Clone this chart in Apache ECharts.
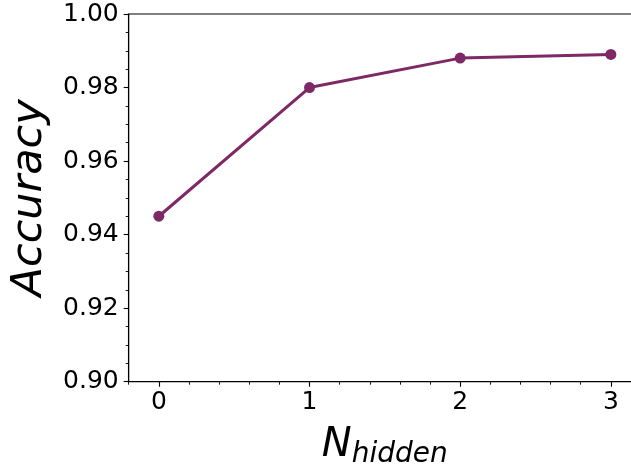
<!DOCTYPE html>
<html><head><meta charset="utf-8">
<script src="https://cdn.jsdelivr.net/npm/echarts@6/dist/echarts.min.js"></script>
<style>html,body{margin:0;padding:0;background:#fff}#c{width:631px;height:468px}</style>
</head><body><div id="c"></div>
<script>
const nHidden = [0, 1, 2, 3];
const accuracy = [0.945, 0.980, 0.988, 0.989];
const xTicks = [0, 1, 2, 3];
const yTicks = [0.90, 0.92, 0.94, 0.96, 0.98, 1.00];

const F = 'DejaVu Sans';
const chart = echarts.init(document.getElementById('c'), null, {renderer: 'canvas'});
chart.setOption({
  animation: false,
  grid: {left: 128.7, width: 512.3, top: 14, height: 367.7, show: true, borderColor: '#000', borderWidth: 1.1, backgroundColor: 'transparent', containLabel: false, outerBoundsMode: 'none'},
  xAxis: [{
    type: 'value', min: -0.2, max: 3.2,
    name: '{n|N}{s|hidden}', nameLocation: 'middle', nameGap: 41,
    nameTextStyle: {rich: {
      n: {fontFamily: F, fontStyle: 'italic', fontSize: 40, color: '#000'},
      s: {fontFamily: F, fontStyle: 'italic', fontSize: 28, color: '#000', padding: [18, 0, 0, 0]}
    }},
    axisLine: {show: true, onZero: false, lineStyle: {color: '#000', width: 1.1}},
    axisTick: {show: true, customValues: xTicks, length: 5, lineStyle: {color: '#000', width: 1.1}},
    axisLabel: {show: true, customValues: xTicks, fontFamily: F, fontSize: 25, color: '#000', margin: 8, formatter: v => String(Math.round(v))},
    splitLine: {show: false}
  }, {
    type: 'value', min: -0.2, max: 3.2, interval: 0.2, position: 'bottom',
    axisLine: {show: false, onZero: false},
    axisTick: {show: true, length: 3, lineStyle: {color: '#000', width: 0.9}},
    axisLabel: {show: false}, splitLine: {show: false}
  }],
  yAxis: {
    type: 'value', min: 0.9, max: 1.0, interval: 0.02,
    name: 'Accuracy', nameLocation: 'middle', nameGap: 77,
    nameTextStyle: {fontFamily: F, fontStyle: 'italic', fontSize: 43, color: '#000'},
    axisLine: {show: true, onZero: false, lineStyle: {color: '#000', width: 1.1}},
    axisTick: {show: true, length: 5, lineStyle: {color: '#000', width: 1.1}},
    minorTick: {show: true, splitNumber: 4, length: 3, lineStyle: {color: '#000', width: 0.9}},
    axisLabel: {fontFamily: F, fontSize: 25, color: '#000', margin: 10, formatter: v => v.toFixed(2)},
    splitLine: {show: false}, minorSplitLine: {show: false}
  },
  series: [{
    type: 'line', xAxisIndex: 0,
    data: nHidden.map((x, i) => [x, accuracy[i]]),
    symbol: 'circle', symbolSize: 11,
    lineStyle: {color: '#7e2866', width: 3},
    itemStyle: {color: '#7e2866'}
  }]
});
</script></body></html>
